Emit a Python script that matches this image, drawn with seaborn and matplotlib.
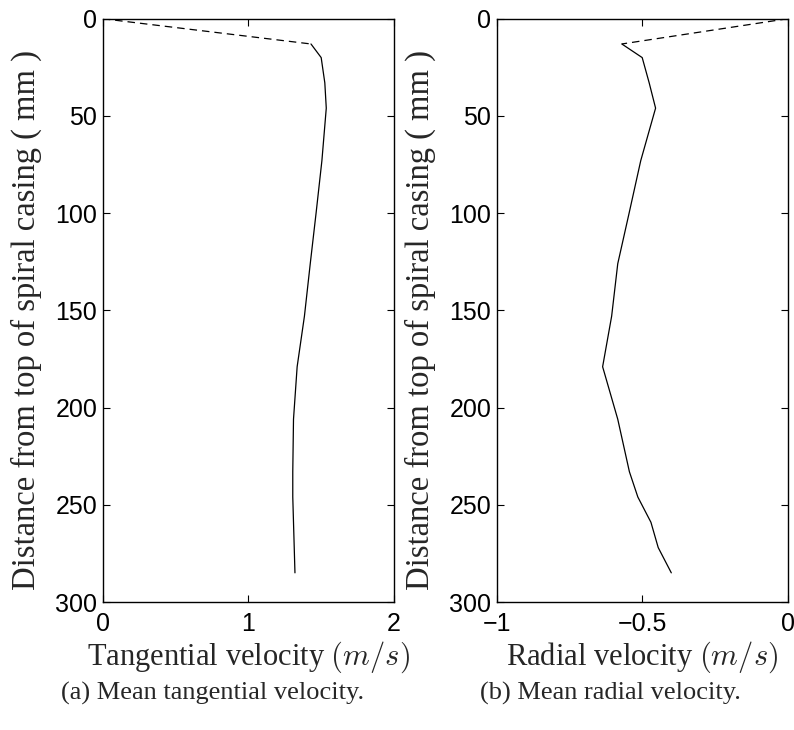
import numpy as np
import pandas as pd
import matplotlib
matplotlib.use("Agg")
import matplotlib.pyplot as plt
import seaborn as sns

# ---- data ----
distance = [0, 13, 20, 33, 46, 73, 100, 126, 153, 179, 206, 233, 246, 259, 272, 285]
tangential = [0.0, 1.43, 1.50, 1.525, 1.535, 1.505, 1.465, 1.425, 1.385, 1.335, 1.31, 1.305, 1.305, 1.31, 1.315, 1.32]
radial = [0.0, -0.57, -0.50, -0.476, -0.454, -0.505, -0.545, -0.584, -0.605, -0.636, -0.584, -0.544, -0.515, -0.47, -0.445, -0.40]

xticks_a = [0, 1, 2]
xticks_b = [-1, -0.5, 0]
xticklabels_b = ["\u22121", "\u22120.5", "0"]
yticks = [0, 50, 100, 150, 200, 250, 300]

xlabel_a = "Tangential velocity $(m/s)$"
xlabel_b = "Radial velocity $(m/s)$"
ylabel = "Distance from top of spiral casing ( mm )"
caption_a = "(a) Mean tangential velocity."
caption_b = "(b) Mean radial velocity."

sns.set_style("ticks")
plt.rcParams["font.family"] = ["Liberation Sans", "DejaVu Sans"]
plt.rcParams["mathtext.fontset"] = "cm"

df = pd.DataFrame({"distance": distance, "tangential": tangential, "radial": radial})
df_dash = df.iloc[:2]
df_solid = df.iloc[1:]

fig = plt.figure(figsize=(7.94, 7.30), dpi=100)
W, H = 794, 730
axA = fig.add_axes([102.7 / W, 1 - 602 / H, 291.3 / W, (602 - 18.7) / H])
axB = fig.add_axes([496.7 / W, 1 - 602 / H, 291.0 / W, (602 - 18.7) / H])

serif = ["Liberation Serif", "DejaVu Serif"]

for ax, col, xt, xtl, xl, xlab in [
    (axA, "tangential", xticks_a, [str(v) for v in xticks_a], (0, 2), xlabel_a),
    (axB, "radial", xticks_b, xticklabels_b, (-1, 0), xlabel_b),
]:
    sns.lineplot(data=df_dash, x=col, y="distance", sort=False, estimator=None,
                 color="black", linewidth=0.9, linestyle=(0, (6, 4)), ax=ax)
    sns.lineplot(data=df_solid, x=col, y="distance", sort=False, estimator=None,
                 color="black", linewidth=0.9, ax=ax)
    ax.set_xlim(*xl)
    ax.set_ylim(300, 0)
    ax.set_xticks(xt)
    ax.set_xticklabels(xtl)
    ax.set_yticks(yticks)
    ax.tick_params(direction="in", top=True, right=True, length=5, width=0.8,
                   labelsize=18, colors="black")
    ax.tick_params(axis="y", pad=4)
    ax.tick_params(axis="x", pad=7)
    for s in ax.spines.values():
        s.set_linewidth(1.0)
        s.set_color("black")
        s.set_visible(True)
    ax.set_xlabel(xlab, fontsize=22, family=serif)
    ax.set_ylabel(ylabel, fontsize=23.5, family=serif)
    ax.xaxis.set_label_coords(0.5, -0.064)
    ax.yaxis.set_label_coords(-0.21, 0.483)

fig.text(213 / W, 1 - 693 / H, caption_a, ha="center", va="center", fontsize=19, family=serif)
fig.text(610 / W, 1 - 693 / H, caption_b, ha="center", va="center", fontsize=19, family=serif)

fig.savefig("out.png", dpi=100, facecolor="white")
